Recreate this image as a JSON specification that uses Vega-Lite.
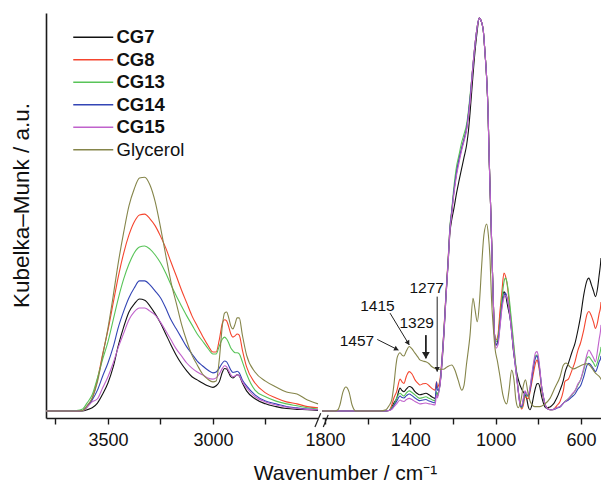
{
 "$schema": "https://vega.github.io/schema/vega-lite/v6.json",
 "padding": {"left": 10, "top": 13, "right": 0, "bottom": 4},
 "autosize": {"type": "pad"},
 "bounds": "flush",
 "spacing": 4,
 "config": {
  "view": {"stroke": null},
  "font": "Liberation Sans",
  "axis": {"grid": false, "domainColor": "#1a1a1a", "domainWidth": 1.6, "tickColor": "#1a1a1a", "tickWidth": 1.4, "tickSize": 6, "labelFontSize": 18, "labelColor": "#111", "labelPadding": 7, "titleFontSize": 21, "titleFontWeight": "normal", "titleColor": "#111", "labelFont": "Liberation Sans", "titleFont": "Liberation Sans"}
 },
 "datasets": {
  "left": [
   {"w":3795,"CG7":0,"CG8":0,"CG13":0,"CG14":0,"CG15":0,"Glycerol":0},
   {"w":3700,"CG7":0,"CG8":0,"CG13":0,"CG14":0,"CG15":0,"Glycerol":0},
   {"w":3650,"CG7":0,"CG8":0,"CG13":0.1,"CG14":0,"CG15":0,"Glycerol":0},
   {"w":3620,"CG7":0,"CG8":0.1,"CG13":0.5,"CG14":0.1,"CG15":0.1,"Glycerol":0.1},
   {"w":3600,"CG7":0.3,"CG8":1.0,"CG13":2.0,"CG14":1.0,"CG15":1.0,"Glycerol":1.3},
   {"w":3575,"CG7":0.8,"CG8":3.1,"CG13":4.1,"CG14":2.8,"CG15":2.3,"Glycerol":3.3},
   {"w":3550,"CG7":2.0,"CG8":8.1,"CG13":8.4,"CG14":5.3,"CG15":3.1,"Glycerol":7.4},
   {"w":3525,"CG7":4.3,"CG8":14.5,"CG13":13.2,"CG14":8.9,"CG15":5.9,"Glycerol":14.2},
   {"w":3500,"CG7":7.1,"CG8":20.6,"CG13":17.6,"CG14":12.2,"CG15":8.7,"Glycerol":21.1},
   {"w":3475,"CG7":11.2,"CG8":27.5,"CG13":23.2,"CG14":16.3,"CG15":12.2,"Glycerol":29.3},
   {"w":3450,"CG7":16.8,"CG8":34.4,"CG13":28.8,"CG14":21.4,"CG15":16.3,"Glycerol":38.0},
   {"w":3425,"CG7":21.4,"CG8":40.2,"CG13":33.6,"CG14":25.4,"CG15":19.8,"Glycerol":45.5},
   {"w":3400,"CG7":25.2,"CG8":44.8,"CG13":37.4,"CG14":28.8,"CG15":23.2,"Glycerol":52.2},
   {"w":3375,"CG7":27.2,"CG8":48.1,"CG13":40.2,"CG14":31.3,"CG15":25.2,"Glycerol":56.5},
   {"w":3350,"CG7":28.5,"CG8":49.9,"CG13":41.7,"CG14":33.1,"CG15":26.2,"Glycerol":59.3},
   {"w":3325,"CG7":28.2,"CG8":50.1,"CG13":42.0,"CG14":33.1,"CG15":26.2,"Glycerol":59.5},
   {"w":3300,"CG7":26.7,"CG8":48.9,"CG13":41.2,"CG14":32.1,"CG15":25.4,"Glycerol":57.5},
   {"w":3275,"CG7":24.7,"CG8":47.1,"CG13":39.7,"CG14":30.5,"CG15":24.4,"Glycerol":53.2},
   {"w":3250,"CG7":22.4,"CG8":44.5,"CG13":37.7,"CG14":28.8,"CG15":22.6,"Glycerol":46.8},
   {"w":3225,"CG7":19.6,"CG8":41.5,"CG13":35.1,"CG14":26.2,"CG15":20.4,"Glycerol":39.7},
   {"w":3200,"CG7":16.8,"CG8":37.9,"CG13":32.1,"CG14":23.2,"CG15":18.1,"Glycerol":32.8},
   {"w":3175,"CG7":14.2,"CG8":34.4,"CG13":29.3,"CG14":20.9,"CG15":15.8,"Glycerol":27.5},
   {"w":3150,"CG7":12.0,"CG8":30.8,"CG13":26.7,"CG14":18.6,"CG15":14.0,"Glycerol":22.1},
   {"w":3125,"CG7":10.2,"CG8":27.5,"CG13":24.2,"CG14":16.3,"CG15":12.2,"Glycerol":17.8},
   {"w":3100,"CG7":8.7,"CG8":24.2,"CG13":21.9,"CG14":14.5,"CG15":10.9,"Glycerol":14.2},
   {"w":3075,"CG7":7.9,"CG8":21.6,"CG13":19.6,"CG14":12.7,"CG15":9.9,"Glycerol":11.7},
   {"w":3050,"CG7":7.1,"CG8":19.1,"CG13":17.8,"CG14":11.5,"CG15":9.2,"Glycerol":9.4},
   {"w":3025,"CG7":6.4,"CG8":16.8,"CG13":16.0,"CG14":10.4,"CG15":8.4,"Glycerol":8.1},
   {"w":3000,"CG7":6.0,"CG8":15.0,"CG13":14.5,"CG14":9.7,"CG15":8.1,"Glycerol":7.4},
   {"w":2985,"CG7":6.4,"CG8":15.0,"CG13":14.5,"CG14":9.9,"CG15":8.4,"Glycerol":7.6},
   {"w":2970,"CG7":7.4,"CG8":18.1,"CG13":16.5,"CG14":10.9,"CG15":9.4,"Glycerol":13.0},
   {"w":2955,"CG7":9.9,"CG8":22.4,"CG13":18.3,"CG14":12.2,"CG15":10.9,"Glycerol":21.9},
   {"w":2945,"CG7":10.8,"CG8":23.2,"CG13":18.8,"CG14":12.7,"CG15":11.5,"Glycerol":24.9},
   {"w":2935,"CG7":10.7,"CG8":22.9,"CG13":18.3,"CG14":12.5,"CG15":11.2,"Glycerol":25.2},
   {"w":2925,"CG7":9.7,"CG8":21.4,"CG13":17.3,"CG14":11.5,"CG15":10.2,"Glycerol":23.7},
   {"w":2915,"CG7":8.7,"CG8":19.6,"CG13":16.0,"CG14":10.4,"CG15":9.2,"Glycerol":21.6},
   {"w":2905,"CG7":8.4,"CG8":18.8,"CG13":15.3,"CG14":9.8,"CG15":8.7,"Glycerol":20.9},
   {"w":2895,"CG7":8.8,"CG8":19.1,"CG13":14.8,"CG14":9.9,"CG15":8.9,"Glycerol":22.1},
   {"w":2885,"CG7":9.2,"CG8":19.6,"CG13":14.8,"CG14":10.1,"CG15":9.2,"Glycerol":23.7},
   {"w":2875,"CG7":8.9,"CG8":19.3,"CG13":14.5,"CG14":9.7,"CG15":8.9,"Glycerol":23.7},
   {"w":2860,"CG7":7.1,"CG8":15.5,"CG13":12.5,"CG14":7.9,"CG15":7.4,"Glycerol":19.3},
   {"w":2840,"CG7":5.1,"CG8":11.2,"CG13":9.4,"CG14":6.4,"CG15":5.9,"Glycerol":14.2},
   {"w":2800,"CG7":3.1,"CG8":7.1,"CG13":5.3,"CG14":4.1,"CG15":3.6,"Glycerol":9.9},
   {"w":2750,"CG7":1.8,"CG8":4.6,"CG13":3.6,"CG14":2.5,"CG15":2.3,"Glycerol":7.6},
   {"w":2700,"CG7":1.1,"CG8":3.3,"CG13":2.5,"CG14":1.8,"CG15":1.5,"Glycerol":6.1},
   {"w":2650,"CG7":0.6,"CG8":2.3,"CG13":1.8,"CG14":1.1,"CG15":1.0,"Glycerol":4.8},
   {"w":2600,"CG7":0.4,"CG8":1.8,"CG13":1.3,"CG14":0.8,"CG15":0.6,"Glycerol":4.3},
   {"w":2550,"CG7":0.3,"CG8":1.1,"CG13":0.8,"CG14":0.5,"CG15":0.4,"Glycerol":2.8},
   {"w":2500,"CG7":0.1,"CG8":0.8,"CG13":0.5,"CG14":0.3,"CG15":0.3,"Glycerol":1.8}
  ],
  "right": [
   {"w":1814,"CG7":0,"CG8":0,"CG13":0,"CG14":0,"CG15":0},
   {"w":1542,"CG7":0,"CG8":0,"CG13":0,"CG14":0,"CG15":0},
   {"w":1514,"CG7":0,"CG8":0,"CG13":0,"CG14":0,"CG15":0},
   {"w":1500,"CG7":0.1,"CG8":0.1,"CG13":0.1,"CG14":0.1,"CG15":0.1},
   {"w":1487,"CG7":1.0,"CG8":1.5,"CG13":0.8,"CG14":0.5,"CG15":0.4},
   {"w":1477,"CG7":2.0,"CG8":3.3,"CG13":1.5,"CG14":1.3,"CG15":1.0},
   {"w":1464,"CG7":3.2,"CG8":4.9,"CG13":3.3,"CG14":2.5,"CG15":1.8},
   {"w":1448,"CG7":5.8,"CG8":8.1,"CG13":4.5,"CG14":3.8,"CG15":2.8},
   {"w":1439,"CG7":5.2,"CG8":7.4,"CG13":4.1,"CG14":3.4,"CG15":2.5},
   {"w":1430,"CG7":4.9,"CG8":7.0,"CG13":3.8,"CG14":3.3,"CG15":2.4},
   {"w":1418,"CG7":5.6,"CG8":8.9,"CG13":4.6,"CG14":3.9,"CG15":2.9},
   {"w":1405,"CG7":6.2,"CG8":10.0,"CG13":5.1,"CG14":4.3,"CG15":3.2},
   {"w":1392,"CG7":5.9,"CG8":9.4,"CG13":4.7,"CG14":3.9,"CG15":2.9},
   {"w":1378,"CG7":4.9,"CG8":7.9,"CG13":4.1,"CG14":3.3,"CG15":2.4},
   {"w":1364,"CG7":4.3,"CG8":7.0,"CG13":3.4,"CG14":2.8,"CG15":2.0},
   {"w":1355,"CG7":4.1,"CG8":6.6,"CG13":3.2,"CG14":2.6,"CG15":1.8},
   {"w":1341,"CG7":4.3,"CG8":6.9,"CG13":3.4,"CG14":2.8,"CG15":1.9},
   {"w":1327,"CG7":4.5,"CG8":7.0,"CG13":3.6,"CG14":2.9,"CG15":2.0},
   {"w":1312,"CG7":4.1,"CG8":6.4,"CG13":3.2,"CG14":2.5,"CG15":1.8},
   {"w":1300,"CG7":3.6,"CG8":5.8,"CG13":2.9,"CG14":2.3,"CG15":1.7},
   {"w":1284,"CG7":3.2,"CG8":5.3,"CG13":2.6,"CG14":2.1,"CG15":1.5},
   {"w":1277,"CG7":4.8,"CG8":7.4,"CG13":4.8,"CG14":7.4,"CG15":4.1},
   {"w":1273,"CG7":3.8,"CG8":5.9,"CG13":3.8,"CG14":5.3,"CG15":3.3},
   {"w":1268,"CG7":4.6,"CG8":6.4,"CG13":4.8,"CG14":5.3,"CG15":4.3},
   {"w":1261,"CG7":6.6,"CG8":7.9,"CG13":7.1,"CG14":6.9,"CG15":6.4},
   {"w":1252,"CG7":11.7,"CG8":13.0,"CG13":12.5,"CG14":12.5,"CG15":12.0},
   {"w":1242,"CG7":19.8,"CG8":21.1,"CG13":20.6,"CG14":20.6,"CG15":20.1},
   {"w":1233,"CG7":28.8,"CG8":29.8,"CG13":29.3,"CG14":29.3,"CG15":28.8},
   {"w":1223,"CG7":37.4,"CG8":38.4,"CG13":37.9,"CG14":37.9,"CG15":37.4},
   {"w":1214,"CG7":45.5,"CG8":46.6,"CG13":47.1,"CG14":46.6,"CG15":46.1},
   {"w":1206,"CG7":48.6,"CG8":50.6,"CG13":51.1,"CG14":50.6,"CG15":50.1},
   {"w":1195,"CG7":51.7,"CG8":56.2,"CG13":57.3,"CG14":56.2,"CG15":55.5},
   {"w":1183,"CG7":55.5,"CG8":60.8,"CG13":62.3,"CG14":60.8,"CG15":60.1},
   {"w":1172,"CG7":58.5,"CG8":63.9,"CG13":65.1,"CG14":63.9,"CG15":63.1},
   {"w":1159,"CG7":61.8,"CG8":66.9,"CG13":68.4,"CG14":66.9,"CG15":66.4},
   {"w":1148,"CG7":64.6,"CG8":69.2,"CG13":70.5,"CG14":69.2,"CG15":68.7},
   {"w":1136,"CG7":67.7,"CG8":72.0,"CG13":73.0,"CG14":72.0,"CG15":71.5},
   {"w":1127,"CG7":71.5,"CG8":75.8,"CG13":76.6,"CG14":75.8,"CG15":75.3},
   {"w":1120,"CG7":75.8,"CG8":79.4,"CG13":80.2,"CG14":79.4,"CG15":78.6},
   {"w":1109,"CG7":83.5,"CG8":86.3,"CG13":86.3,"CG14":86.3,"CG15":86.3},
   {"w":1097,"CG7":91.3,"CG8":93.1,"CG13":93.1,"CG14":93.1,"CG15":93.1},
   {"w":1087,"CG7":96.4,"CG8":97.5,"CG13":97.5,"CG14":97.5,"CG15":97.5},
   {"w":1077,"CG7":100,"CG8":100,"CG13":100,"CG14":100,"CG15":100},
   {"w":1066,"CG7":99.0,"CG8":99.0,"CG13":99.0,"CG14":99.0,"CG15":99.0},
   {"w":1058,"CG7":96.9,"CG8":96.9,"CG13":96.9,"CG14":96.9,"CG15":96.9},
   {"w":1050,"CG7":91.3,"CG8":91.3,"CG13":91.3,"CG14":91.3,"CG15":91.3},
   {"w":1042,"CG7":84.7,"CG8":84.7,"CG13":84.7,"CG14":84.7,"CG15":84.7},
   {"w":1036,"CG7":77.1,"CG8":77.1,"CG13":77.1,"CG14":77.1,"CG15":77.1},
   {"w":1030,"CG7":63.9,"CG8":63.9,"CG13":63.9,"CG14":63.9,"CG15":63.9},
   {"w":1023,"CG7":51.1,"CG8":51.1,"CG13":51.1,"CG14":51.1,"CG15":51.1},
   {"w":1017,"CG7":39.7,"CG8":39.7,"CG13":39.7,"CG14":39.7,"CG15":39.7},
   {"w":1011,"CG7":28.2,"CG8":28.2,"CG13":28.2,"CG14":28.2,"CG15":28.2},
   {"w":1005,"CG7":19.3,"CG8":19.3,"CG13":19.3,"CG14":19.3,"CG15":19.3},
   {"w":998,"CG7":16.8,"CG8":18.1,"CG13":17.6,"CG14":16.8,"CG15":16.0},
   {"w":989,"CG7":18.1,"CG8":19.3,"CG13":18.6,"CG14":17.6,"CG15":16.8},
   {"w":980,"CG7":23.2,"CG8":25.2,"CG13":22.6,"CG14":21.6,"CG15":21.1},
   {"w":970,"CG7":28.2,"CG8":30.8,"CG13":28.8,"CG14":27.0,"CG15":26.2},
   {"w":961,"CG7":30.3,"CG8":35.1,"CG13":32.8,"CG14":29.3,"CG15":28.8},
   {"w":954,"CG7":29.8,"CG8":34.4,"CG13":33.8,"CG14":30.0,"CG15":29.5},
   {"w":947,"CG7":27.7,"CG8":32.6,"CG13":32.8,"CG14":29.0,"CG15":28.8},
   {"w":940,"CG7":25.7,"CG8":29.5,"CG13":30.3,"CG14":27.0,"CG15":27.0},
   {"w":933,"CG7":24.0,"CG8":25.7,"CG13":27.0,"CG14":24.2,"CG15":24.2},
   {"w":925,"CG7":20.6,"CG8":21.4,"CG13":22.6,"CG14":20.1,"CG15":20.1},
   {"w":917,"CG7":15.5,"CG8":17.3,"CG13":18.1,"CG14":16.0,"CG15":16.0},
   {"w":909,"CG7":12.5,"CG8":13.0,"CG13":13.5,"CG14":12.0,"CG15":12.0},
   {"w":901,"CG7":9.7,"CG8":8.7,"CG13":9.2,"CG14":8.4,"CG15":8.4},
   {"w":893,"CG7":7.9,"CG8":4.8,"CG13":4.8,"CG14":4.6,"CG15":4.6},
   {"w":886,"CG7":6.6,"CG8":2.0,"CG13":2.0,"CG14":1.8,"CG15":1.8},
   {"w":878,"CG7":5.6,"CG8":0.5,"CG13":0.8,"CG14":1.0,"CG15":1.3},
   {"w":870,"CG7":4.8,"CG8":1.5,"CG13":2.3,"CG14":2.8,"CG15":3.3},
   {"w":862,"CG7":4.1,"CG8":3.6,"CG13":4.3,"CG14":4.8,"CG15":5.1},
   {"w":854,"CG7":3.1,"CG8":3.3,"CG13":3.8,"CG14":4.1,"CG15":4.3},
   {"w":847,"CG7":1.1,"CG8":3.1,"CG13":3.8,"CG14":3.8,"CG15":4.1},
   {"w":839,"CG7":0.3,"CG8":4.8,"CG13":5.9,"CG14":5.3,"CG15":5.9},
   {"w":830,"CG7":1.5,"CG8":7.4,"CG13":8.9,"CG14":8.4,"CG15":9.4},
   {"w":820,"CG7":4.3,"CG8":10.4,"CG13":12.5,"CG14":12.0,"CG15":13.0},
   {"w":813,"CG7":5.9,"CG8":12.2,"CG13":14.0,"CG14":13.5,"CG15":14.8},
   {"w":806,"CG7":6.9,"CG8":13.0,"CG13":14.2,"CG14":14.0,"CG15":15.1},
   {"w":800,"CG7":7.0,"CG8":12.0,"CG13":13.0,"CG14":13.0,"CG15":14.0},
   {"w":792,"CG7":5.9,"CG8":9.2,"CG13":9.9,"CG14":9.9,"CG15":10.4},
   {"w":785,"CG7":3.8,"CG8":5.9,"CG13":6.4,"CG14":6.4,"CG15":6.6},
   {"w":776,"CG7":2.0,"CG8":3.3,"CG13":3.6,"CG14":3.6,"CG15":3.6},
   {"w":769,"CG7":1.0,"CG8":1.8,"CG13":1.8,"CG14":1.8,"CG15":1.8},
   {"w":761,"CG7":0.7,"CG8":0.9,"CG13":0.8,"CG14":0.8,"CG15":0.8},
   {"w":752,"CG7":0.9,"CG8":0.5,"CG13":0.4,"CG14":0.4,"CG15":0.4},
   {"w":745,"CG7":1.0,"CG8":0.3,"CG13":0.3,"CG14":0.3,"CG15":0.3},
   {"w":736,"CG7":1.4,"CG8":0.3,"CG13":0.3,"CG14":0.3,"CG15":0.3},
   {"w":726,"CG7":2.0,"CG8":0.5,"CG13":0.4,"CG14":0.4,"CG15":0.4},
   {"w":714,"CG7":3.2,"CG8":1.3,"CG13":0.8,"CG14":0.7,"CG15":0.8},
   {"w":698,"CG7":5.3,"CG8":2.4,"CG13":1.1,"CG14":1.0,"CG15":1.1},
   {"w":682,"CG7":7.9,"CG8":5.3,"CG13":2.0,"CG14":2.0,"CG15":2.0},
   {"w":675,"CG7":9.7,"CG8":7.5,"CG13":2.4,"CG14":2.3,"CG15":2.3},
   {"w":659,"CG7":12.1,"CG8":8.1,"CG13":3.1,"CG14":2.8,"CG15":3.1},
   {"w":642,"CG7":15.0,"CG8":10.4,"CG13":4.1,"CG14":3.6,"CG15":4.3},
   {"w":628,"CG7":17.2,"CG8":12.5,"CG13":5.1,"CG14":4.3,"CG15":5.1},
   {"w":614,"CG7":20.6,"CG8":15.5,"CG13":6.6,"CG14":5.6,"CG15":6.9},
   {"w":602,"CG7":24.0,"CG8":17.3,"CG13":7.9,"CG14":6.4,"CG15":7.9},
   {"w":587,"CG7":29.5,"CG8":20.6,"CG13":10.4,"CG14":8.7,"CG15":10.9},
   {"w":571,"CG7":33.3,"CG8":24.7,"CG13":13.5,"CG14":11.7,"CG15":14.5},
   {"w":563,"CG7":33.8,"CG8":25.3,"CG13":13.8,"CG14":12.1,"CG15":15.5},
   {"w":551,"CG7":32.1,"CG8":24.2,"CG13":13.0,"CG14":11.5,"CG15":14.5},
   {"w":541,"CG7":30.5,"CG8":22.6,"CG13":12.2,"CG14":10.7,"CG15":13.5},
   {"w":532,"CG7":29.1,"CG8":21.0,"CG13":11.3,"CG14":10.0,"CG15":12.5},
   {"w":522,"CG7":31.3,"CG8":22.6,"CG13":12.5,"CG14":11.2,"CG15":15.5},
   {"w":515,"CG7":34.4,"CG8":24.7,"CG13":14.0,"CG14":12.5,"CG15":18.1},
   {"w":508,"CG7":37.6,"CG8":26.5,"CG13":15.5,"CG14":13.4,"CG15":20.6},
   {"w":506,"CG7":38.9,"CG8":27.7,"CG13":16.3,"CG14":14.0,"CG15":21.9},
   {"w":1814,"Glycerol":0},{"w":1753,"Glycerol":0},{"w":1739,"Glycerol":0.3},{"w":1730,"Glycerol":1.5},
   {"w":1716,"Glycerol":4.8},{"w":1702,"Glycerol":6.1},{"w":1687,"Glycerol":4.8},{"w":1673,"Glycerol":1.5},
   {"w":1655,"Glycerol":0},{"w":1542,"Glycerol":0},{"w":1514,"Glycerol":0.3},{"w":1500,"Glycerol":1.3},
   {"w":1487,"Glycerol":2.8},{"w":1477,"Glycerol":6.6},{"w":1467,"Glycerol":11.7},{"w":1461,"Glycerol":13.7},
   {"w":1448,"Glycerol":14.8},{"w":1439,"Glycerol":14.2},{"w":1430,"Glycerol":14.0},{"w":1418,"Glycerol":15.3},
   {"w":1405,"Glycerol":16.4},{"w":1392,"Glycerol":15.8},{"w":1378,"Glycerol":14.7},{"w":1364,"Glycerol":13.7},
   {"w":1355,"Glycerol":13.0},{"w":1341,"Glycerol":12.7},{"w":1327,"Glycerol":12.5},{"w":1312,"Glycerol":12.0},
   {"w":1300,"Glycerol":11.3},{"w":1284,"Glycerol":10.8},{"w":1269,"Glycerol":10.6},{"w":1245,"Glycerol":10.6},
   {"w":1228,"Glycerol":11.2},{"w":1206,"Glycerol":11.7},{"w":1191,"Glycerol":10.4},{"w":1176,"Glycerol":7.9},
   {"w":1159,"Glycerol":5.3},{"w":1148,"Glycerol":6.6},{"w":1137,"Glycerol":11.7},{"w":1120,"Glycerol":19.3},
   {"w":1106,"Glycerol":28.7},{"w":1097,"Glycerol":26.0},{"w":1086,"Glycerol":22.7},{"w":1076,"Glycerol":27.5},
   {"w":1066,"Glycerol":36.5},{"w":1055,"Glycerol":44.8},{"w":1042,"Glycerol":47.6},{"w":1034,"Glycerol":44.8},
   {"w":1026,"Glycerol":38.4},{"w":1019,"Glycerol":28.2},{"w":1010,"Glycerol":20.6},{"w":1003,"Glycerol":16.0},
   {"w":991,"Glycerol":12.5},{"w":980,"Glycerol":8.9},{"w":966,"Glycerol":4.1},{"w":948,"Glycerol":1.8},
   {"w":937,"Glycerol":5.3},{"w":925,"Glycerol":10.4},{"w":914,"Glycerol":7.9},{"w":905,"Glycerol":2.8},
   {"w":894,"Glycerol":0.8},{"w":881,"Glycerol":2.8},{"w":870,"Glycerol":6.4},{"w":860,"Glycerol":7.9},
   {"w":849,"Glycerol":4.8},{"w":837,"Glycerol":2.3},{"w":816,"Glycerol":1.1},{"w":792,"Glycerol":1.1},
   {"w":769,"Glycerol":1.8},{"w":745,"Glycerol":3.2},{"w":722,"Glycerol":5.9},{"w":698,"Glycerol":8.7},
   {"w":682,"Glycerol":11.7},{"w":670,"Glycerol":12.2},{"w":651,"Glycerol":11.2},{"w":635,"Glycerol":10.7},
   {"w":614,"Glycerol":11.2},{"w":595,"Glycerol":11.7},{"w":573,"Glycerol":12.0},{"w":557,"Glycerol":11.5},
   {"w":532,"Glycerol":9.6},{"w":508,"Glycerol":8.3},{"w":506,"Glycerol":8.0}
  ],
  "notes": [
   {"label":"1457","w":1650,"v":17.8},
   {"label":"1415","w":1554,"v":26.7},
   {"label":"1329","w":1370,"v":22.5},
   {"label":"1277","w":1323,"v":31.4}
  ],
  "arrows": [
   {"label":"1457","w":1555,"v":18.2,"w2":1456,"v2":15.5},
   {"label":"1415","w":1495,"v":24.9,"w2":1405,"v2":16.8},
   {"label":"1329","w":1327,"v":19.3,"w2":1327,"v2":13.4},
   {"label":"1277","w":1274,"v":29.1,"w2":1274,"v2":10.0}
  ]
 },
 "resolve": {"scale": {"x": "independent"}, "legend": {"color": "independent"}},
 "hconcat": [
  {
   "width": 272,
   "height": 405,
   "data": {"name": "left"},
   "transform": [
    {"fold": ["CG7","CG8","CG13","CG14","CG15","Glycerol"], "as": ["series","value"]},
    {"filter": "isValid(datum.value)"}
   ],
   "mark": {"type": "line", "strokeWidth": 1.1, "interpolate": "monotone"},
   "encoding": {
    "x": {"field": "w", "type": "quantitative",
     "scale": {"domain": [2500, 3795], "reverse": true, "nice": false, "zero": false},
     "axis": {"values": [3750, 3500, 3250, 3000, 2750], "format": "d", "labelExpr": "datum.value % 500 == 0 ? datum.label : ''", "labelFlush": false, "title": "Wavenumber / cm⁻¹", "titleX": 299, "titleY": 61, "titleBaseline": "alphabetic", "titleAnchor": null}},
    "y": {"field": "value", "type": "quantitative",
     "scale": {"domain": [-1.8, 101.3], "nice": false, "zero": false},
     "axis": {"title": "Kubelka–Munk / a.u.", "titleFontSize": 22.5, "ticks": false, "labels": false, "titleX": -25, "titleY": 192, "titleBaseline": "middle"}},
    "color": {"field": "series", "type": "nominal",
     "scale": {"domain": ["CG7","CG8","CG13","CG14","CG15","Glycerol"], "range": ["#111111","#f5452e","#58c458","#3345b5","#c062cc","#85854a"]},
     "legend": {"orient": "none", "legendX": 38, "legendY": 15, "title": null, "symbolType": "M-4,0H4", "symbolSize": 100, "symbolStrokeWidth": 1.5, "labelFontSize": 18.5, "labelFont": "Liberation Sans", "labelColor": "#111", "labelOffset": 14, "rowPadding": 3.5, "padding": 0, "labelLimit": 200,
      "encode": {"labels": {"update": {"fontWeight": {"signal": "datum.label === 'Glycerol' ? 'normal' : 'bold'"}}}}}}
   }
  },
  {
   "width": 279,
   "height": 405,
   "layer": [
    {
     "data": {"name": "right"},
     "transform": [
      {"fold": ["CG7","CG8","CG13","CG14","CG15","Glycerol"], "as": ["series","value"]},
      {"filter": "isValid(datum.value)"}
     ],
     "mark": {"type": "line", "strokeWidth": 1.1, "interpolate": "monotone"},
     "encoding": {
      "x": {"field": "w", "type": "quantitative",
       "scale": {"domain": [506, 1814], "reverse": true, "nice": false, "zero": false},
       "axis": {"values": [1800,1700,1600,1500,1400,1300,1200,1100,1000,900,800,700,600], "format": "d", "labelExpr": "datum.value % 400 == 200 ? datum.label : ''", "labelFlush": false, "title": null}},
      "y": {"field": "value", "type": "quantitative", "scale": {"domain": [-1.8, 101.3], "nice": false, "zero": false}, "axis": null},
      "color": {"field": "series", "type": "nominal", "legend": null}
     }
    },
    {
     "data": {"name": "notes"},
     "mark": {"type": "text", "fontSize": 15.5, "font": "Liberation Sans", "color": "#111", "align": "center", "baseline": "middle"},
     "encoding": {
      "x": {"field": "w", "type": "quantitative"},
      "y": {"field": "v", "type": "quantitative", "axis": null},
      "text": {"field": "label"}
     }
    },
    {
     "data": {"name": "arrows"},
     "transform": [{"filter": "datum.label != '1329'"}],
     "mark": {"type": "rule", "color": "#222", "strokeWidth": 1},
     "encoding": {
      "x": {"field": "w", "type": "quantitative"},
      "x2": {"field": "w2"},
      "y": {"field": "v", "type": "quantitative", "axis": null},
      "y2": {"field": "v2"}
     }
    },
    {
     "data": {"name": "arrows"},
     "transform": [{"filter": "datum.label == '1329'"}],
     "mark": {"type": "rule", "color": "#222", "strokeWidth": 1.8},
     "encoding": {
      "x": {"field": "w", "type": "quantitative"},
      "x2": {"field": "w2"},
      "y": {"field": "v", "type": "quantitative", "axis": null},
      "y2": {"field": "v2"}
     }
    },
    {
     "data": {"name": "arrows"},
     "transform": [{"filter": "datum.label == '1457'"}],
     "mark": {"type": "point", "shape": "triangle", "angle": 117, "filled": true, "size": 28, "color": "#222", "opacity": 1, "xOffset": -2.5, "yOffset": -1.3},
     "encoding": {
      "x": {"field": "w2", "type": "quantitative"},
      "y": {"field": "v2", "type": "quantitative", "axis": null}
     }
    },
    {
     "data": {"name": "arrows"},
     "transform": [{"filter": "datum.label == '1415'"}],
     "mark": {"type": "point", "shape": "triangle", "angle": 149, "filled": true, "size": 28, "color": "#222", "opacity": 1, "xOffset": -1.5, "yOffset": -2.6},
     "encoding": {
      "x": {"field": "w2", "type": "quantitative"},
      "y": {"field": "v2", "type": "quantitative", "axis": null}
     }
    },
    {
     "data": {"name": "arrows"},
     "transform": [{"filter": "datum.label == '1329'"}],
     "mark": {"type": "point", "shape": "triangle", "angle": 180, "filled": true, "size": 60, "color": "#222", "opacity": 1, "yOffset": -4},
     "encoding": {
      "x": {"field": "w2", "type": "quantitative"},
      "y": {"field": "v2", "type": "quantitative", "axis": null}
     }
    },
    {
     "data": {"name": "arrows"},
     "transform": [{"filter": "datum.label == '1277'"}],
     "mark": {"type": "point", "shape": "triangle", "angle": 180, "filled": true, "size": 28, "color": "#222", "opacity": 1, "yOffset": -3},
     "encoding": {
      "x": {"field": "w2", "type": "quantitative"},
      "y": {"field": "v2", "type": "quantitative", "axis": null}
     }
    },
    {
     "data": {"values": [{}]},
     "mark": {"type": "rule", "color": "#222", "strokeWidth": 1.2, "clip": false},
     "encoding": {
      "x": {"datum": 1847, "type": "quantitative"},
      "x2": {"datum": 1820},
      "y": {"datum": -4.1, "type": "quantitative", "axis": null},
      "y2": {"datum": -0.6}
     }
    },
    {
     "data": {"values": [{}]},
     "mark": {"type": "rule", "color": "#222", "strokeWidth": 1.2, "clip": false},
     "encoding": {
      "x": {"datum": 1808, "type": "quantitative"},
      "x2": {"datum": 1785},
      "y": {"datum": -4.1, "type": "quantitative", "axis": null},
      "y2": {"datum": -1.0}
     }
    }
   ]
  }
 ]
}
